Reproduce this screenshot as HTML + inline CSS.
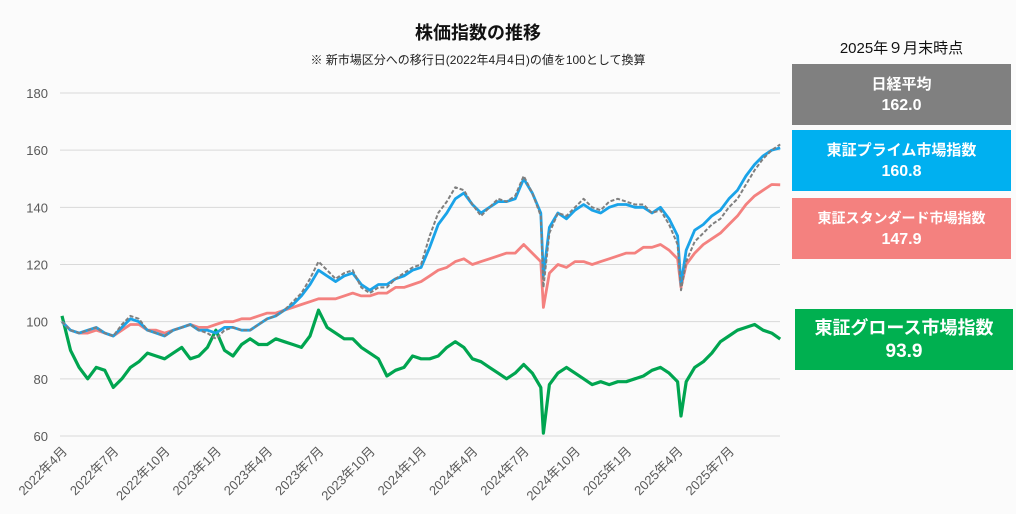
<!DOCTYPE html>
<html><head><meta charset="utf-8">
<style>
body{margin:0;background:#fbfbfb;font-family:"Liberation Sans","Noto Sans CJK JP",sans-serif;}
#wrap{position:relative;width:1016px;height:514px;overflow:hidden;background:#fbfbfb;}
.box{position:absolute;color:#fff;font-weight:bold;text-align:center;display:flex;flex-direction:column;justify-content:center;line-height:21px;font-size:15px;}
.box span+span{font-size:16px;}
</style></head><body>
<div id="wrap">
<svg id="chart" width="1016" height="514" style="position:absolute;left:0;top:0"></svg>
<div style="position:absolute;left:792px;top:37px;width:219px;text-align:center;font-size:15px;color:#111;">2025年９月末時点</div>
<div class="box" style="left:792px;top:64px;width:219px;height:61px;background:#808080;"><span>日経平均</span><span>162.0</span></div>
<div class="box" style="left:792px;top:130px;width:219px;height:61px;background:#00b0f0;"><span>東証プライム市場指数</span><span>160.8</span></div>
<div class="box" style="left:792px;top:198px;width:219px;height:61px;background:#f4817f;font-size:14px;"><span>東証スタンダード市場指数</span><span>147.9</span></div>
<div class="box" style="left:795px;top:309px;width:218px;height:61px;background:#00b050;font-size:18px;line-height:24px;"><span>東証グロース市場指数</span><span style="font-size:19px">93.9</span></div>
</div>
<script>
const dates=[0,0.5,1,1.5,2,2.5,3,3.5,4,4.5,5,5.5,6,6.5,7,7.5,8,8.5,9,9.5,10,10.5,11,11.5,12,12.5,13,13.5,14,14.5,15,15.5,16,16.5,17,17.5,18,18.5,19,19.5,20,20.5,21,21.5,22,22.5,23,23.5,24,24.5,25,25.5,26,26.5,27,27.5,28,28.15,28.5,29,29.5,30,30.5,31,31.5,32,32.5,33,33.5,34,34.5,35,35.5,36,36.2,36.5,37,37.5,38,38.5,39,39.5,40,40.5,41,41.5,42];
const prime=[100,97,96,97,98,96,95,98,101,100,97,96,95,97,98,99,97,97,96,98,98,97,97,99,101,102,104,106,109,113,118,116,114,116,117,113,111,113,113,115,116,118,119,126,134,138,143,145,141,138,140,142,142,143,150,145,138,116,133,138,136,139,141,139,138,140,141,141,140,140,138,140,136,130,113,125,132,134,137,139,143,146,151,155,158,160,160.8];
const nikkei=[100,97,96,97,98,96,95,99,102,101,97,96,95,97,98,99,97,96,94,97,98,97,97,99,101,102,104,107,110,115,121,118,115,117,118,112,110,112,112,115,117,119,120,130,138,142,147,146,141,137,140,143,142,144,151,145,137,112,131,138,137,140,143,140,139,142,143,142,141,141,138,139,134,127,111,121,128,131,134,136,140,143,148,153,157,160,162];
const standard=[100,97,96,96,97,96,95,97,99,99,97,97,96,97,98,99,98,98,99,100,100,101,101,102,103,103,104,105,106,107,108,108,108,109,110,109,109,110,110,112,112,113,114,116,118,119,121,122,120,121,122,123,124,124,127,124,121,105,117,120,119,121,121,120,121,122,123,124,124,126,126,127,125,122,112,120,124,127,129,131,134,137,141,144,146,148,147.9];
const growth=[102,90,84,80,84,83,77,80,84,86,89,88,87,89,91,87,88,91,97,90,88,92,94,92,92,94,93,92,91,95,104,98,96,94,94,91,89,87,81,83,84,88,87,87,88,91,93,91,87,86,84,82,80,82,85,82,77,61,78,82,84,82,80,78,79,78,79,79,80,81,83,84,82,79,67,79,84,86,89,93,95,97,98,99,97,96,93.9];
const yTicks=[60,80,100,120,140,160,180];
const xLabels=["2022年4月","2022年7月","2022年10月","2023年1月","2023年4月","2023年7月","2023年10月","2024年1月","2024年4月","2024年7月","2024年10月","2025年1月","2025年4月","2025年7月"];
const NS="http://www.w3.org/2000/svg";
const svg=document.getElementById('chart');
const X=m=>62+m*17.1;
const Y=v=>436-(v-60)*(343/120);
function el(t,a){const e=document.createElementNS(NS,t);for(const k in a)e.setAttribute(k,a[k]);svg.appendChild(e);return e;}
let t=el('text',{x:478,y:39,'text-anchor':'middle','font-size':18,'font-weight':'bold',fill:'#111'});t.textContent='株価指数の推移';


t=el('text',{x:478,y:64,'text-anchor':'middle','font-size':12,fill:'#222'});t.textContent='※ 新市場区分への移行日(2022年4月4日)の値を100として換算';


yTicks.forEach(v=>{
 const g=el('line',{x1:60,x2:780,y1:Y(v),y2:Y(v),stroke:'#d9d9d9','stroke-width':1});
 
 
 const l=el('text',{x:48,y:Y(v)+5,'text-anchor':'end','font-size':13,fill:'#595959'});l.textContent=v;
 
 
});
xLabels.forEach((s,i)=>{
 const x=X(i*3)+6,y=452;
 const l=el('text',{x:x,y:y,'text-anchor':'end','font-size':13,fill:'#595959',transform:`rotate(-45 ${x} ${y})`});l.textContent=s;
 
 
});
function line(vals,color,w,dash,name){
 const d=vals.map((v,i)=>(i?'L':'M')+X(dates[i]).toFixed(1)+','+Y(v).toFixed(1)).join('');
 const p=el('path',{d:d,fill:'none',stroke:color,'stroke-width':w,'stroke-linejoin':'round'});
 if(dash)p.setAttribute('stroke-dasharray',dash);
 
 
}
line(growth,'#00a550',3.2,null,'growth-line');
line(standard,'#f4817f',2.8,null,'standard-line');
line(prime,'#1aa3e8',2.8,null,'prime-line');
line(nikkei,'#7f7f7f',2,'4 2','nikkei-line');
</script>
</body></html>
